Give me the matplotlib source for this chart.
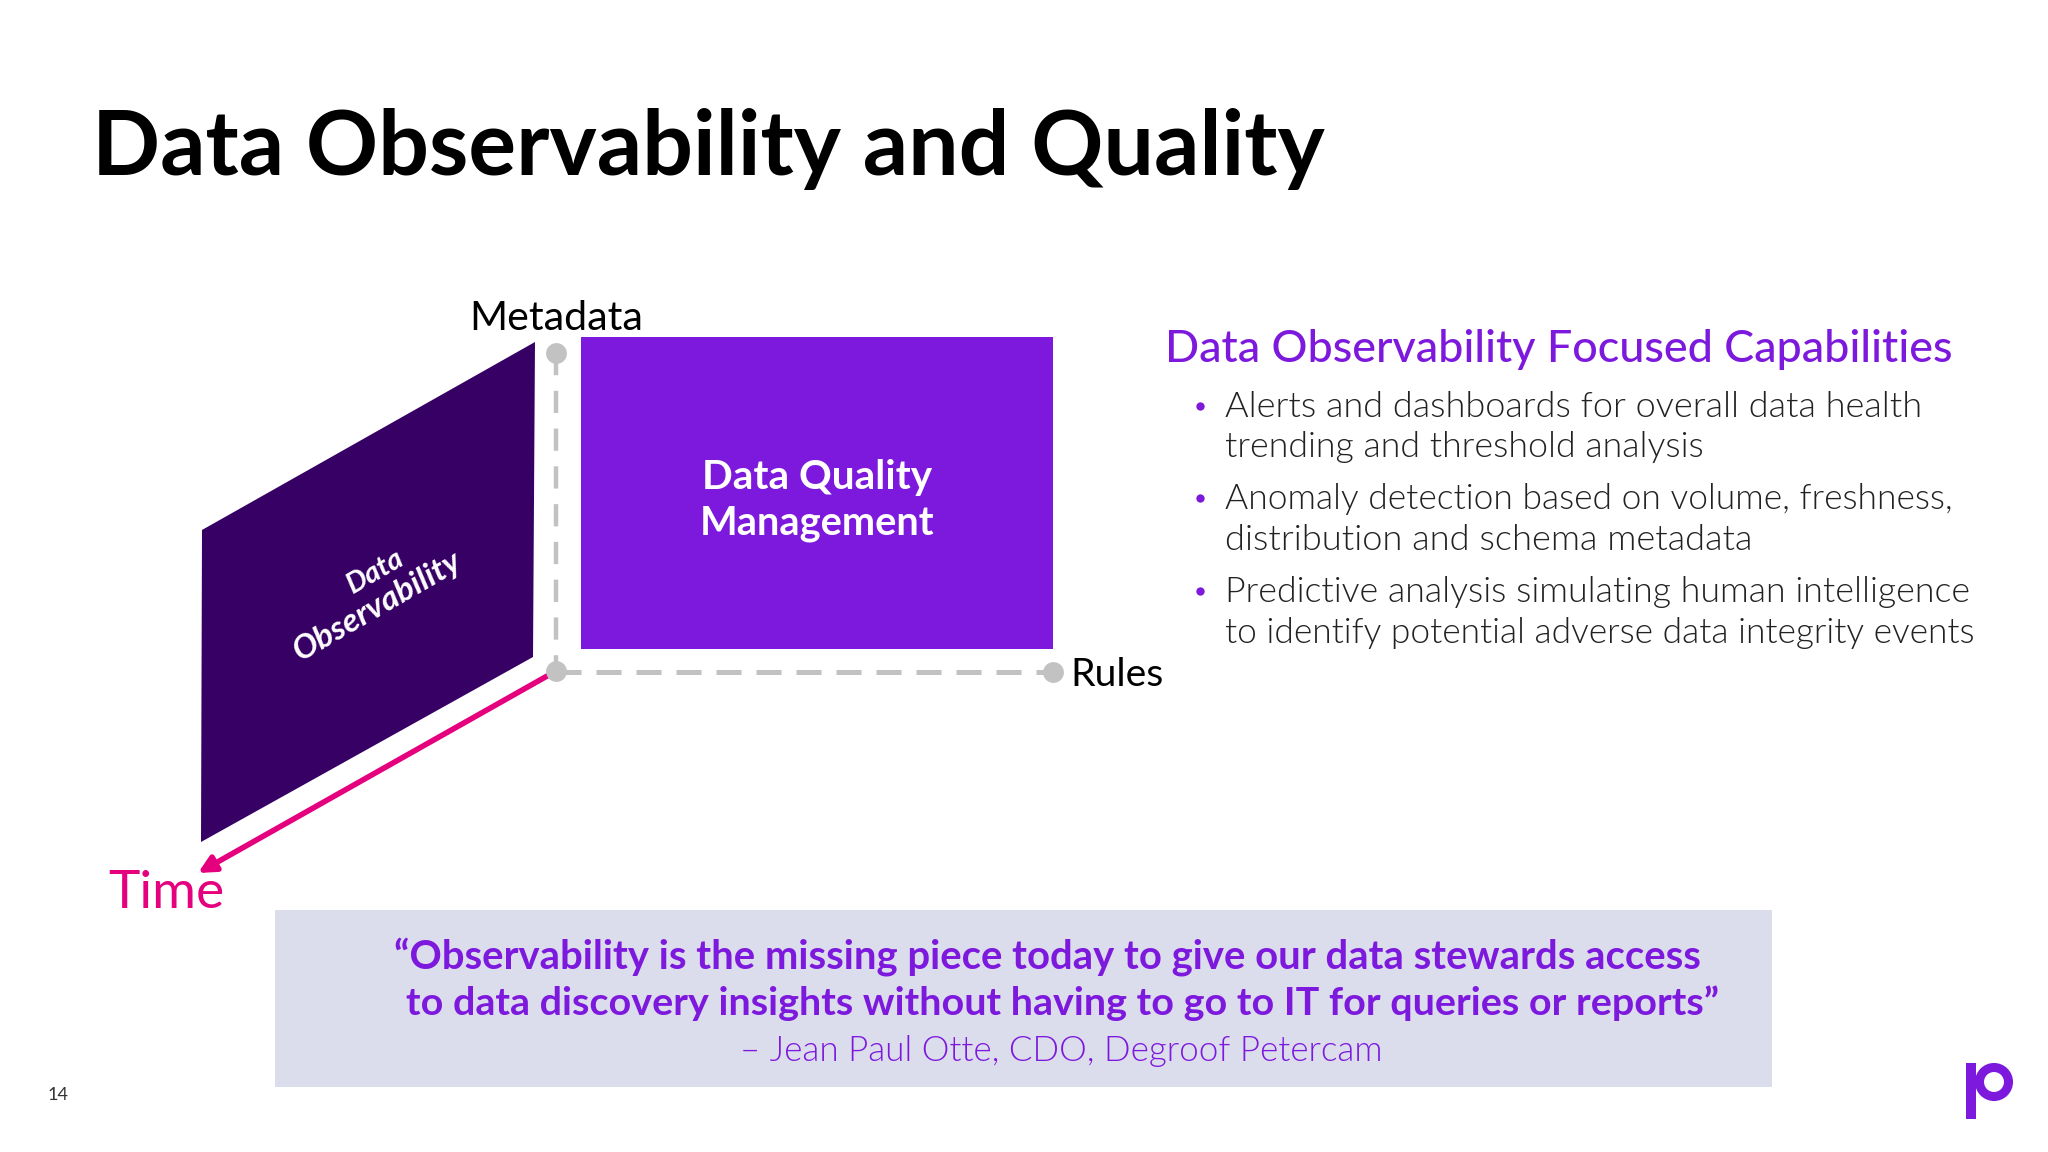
import matplotlib
matplotlib.use('Agg')
import matplotlib.pyplot as plt
from matplotlib.patches import Circle, Polygon, Rectangle

PURPLE = '#7d19dd'
DARK = '#360065'
PINK = '#e5007d'
GREY = '#c2c2c2'
BOX = '#dbdcec'

plt.rcParams['font.family'] = ['Lato', 'DejaVu Sans']

title = 'Data Observability and Quality'
axis_labels = ['Metadata', 'Rules', 'Time']
quality_lines = ['Data Quality', 'Management']
observability_lines = ['Data', 'Observability']
heading = 'Data Observability Focused Capabilities'
bullet_lines = [
    'Alerts and dashboards for overall data health',
    'trending and threshold analysis',
    'Anomaly detection based on volume, freshness,',
    'distribution and schema metadata',
    'Predictive analysis simulating human intelligence',
    'to identify potential adverse data integrity events',
]
quote_lines = [
    '\u201cObservability is the missing piece today to give our data stewards access',
    'to data discovery insights without having to go to IT for queries or reports\u201d',
]
attribution = '\u2013 Jean Paul Otte, CDO, Degroof Petercam'
page_number = '14'

fig = plt.figure(figsize=(20.48, 11.52), dpi=100, facecolor='white')
ax = fig.add_axes([0, 0, 1, 1])
ax.set_xlim(0, 2048)
ax.set_ylim(1152, 0)
ax.axis('off')
renderer = fig.canvas.get_renderer()


def put_text(x, y, text, width, ha='left', **kwargs):
    # start at 40pt and rescale so the line is as wide as in the slide
    artist = ax.text(x, y, text, ha=ha, va='center', fontsize=40, **kwargs)
    measured = artist.get_window_extent(renderer).width
    artist.set_fontsize(40 * width / measured)
    return artist


# planes
ax.add_patch(Polygon([(202, 530), (535, 342), (533, 657), (201, 842)], color=DARK, lw=0))
ax.add_patch(Rectangle((581, 337), 472, 312, color=PURPLE, lw=0))

# axes
ax.plot([556, 556], [353, 671], color=GREY, lw=3.2, dashes=(5, 3.5))
ax.plot([556, 1053], [672, 672], color=GREY, lw=3.6, dashes=(5, 3))
ax.annotate('', xy=(198, 873), xytext=(556, 671),
            arrowprops=dict(arrowstyle='-|>,head_length=1.0,head_width=0.5', color=PINK, lw=4,
                            shrinkA=0, shrinkB=0))
ax.plot([556, 556, 1053], [353, 671, 672], 'o', color=GREY, ms=15, mew=0, zorder=5)

# labels
put_text(556, 319, axis_labels[0], 174, ha='center', color='black')
put_text(1070, 675, axis_labels[1], 93, color='black')
put_text(108, 894, axis_labels[2], 116, color=PINK)

put_text(817, 478, quality_lines[0], 230, ha='center', color='white', weight='bold')
put_text(817, 524, quality_lines[1], 235, ha='center', color='white', weight='bold')
ax.text(376, 572, observability_lines[0], ha='center', va='center', rotation=30,
        rotation_mode='anchor', color='white', weight='bold', style='italic', fontsize=21)
ax.text(377, 606, observability_lines[1], ha='center', va='center', rotation=30,
        rotation_mode='anchor', color='white', weight='bold', style='italic', fontsize=24)

# capabilities list
put_text(1165, 350, heading, 786, color=PURPLE, weight='medium')
bullet_y = [407, 447, 499, 540, 592, 633]
bullet_w = [697, 479, 727, 528, 744, 748]
for y, line, w in zip(bullet_y, bullet_lines, bullet_w):
    put_text(1225, y, line, w, color='#222222', weight=300)
for y in bullet_y[::2]:
    ax.plot(1200, y - 1, 'o', color=PURPLE, ms=6, mew=0)

# quote
ax.add_patch(Rectangle((275, 910), 1497, 177, color=BOX, lw=0))
put_text(394, 957, quote_lines[0], 1306, color=PURPLE, weight='bold')
put_text(406, 1003, quote_lines[1], 1312, color=PURPLE, weight='bold')
put_text(740, 1051, attribution, 642, color=PURPLE, weight=300)

# footer
put_text(48, 1095, page_number, 21, color='#333333')
ax.add_patch(Rectangle((1966, 1063), 10, 56, color=PURPLE, lw=0))
ax.add_patch(Circle((1994, 1082), 14.5, fill=False, ec=PURPLE, lw=6.5))

put_text(92, 149, title, 1233, color='black', weight='bold')

fig.savefig('out.png', dpi=100)
